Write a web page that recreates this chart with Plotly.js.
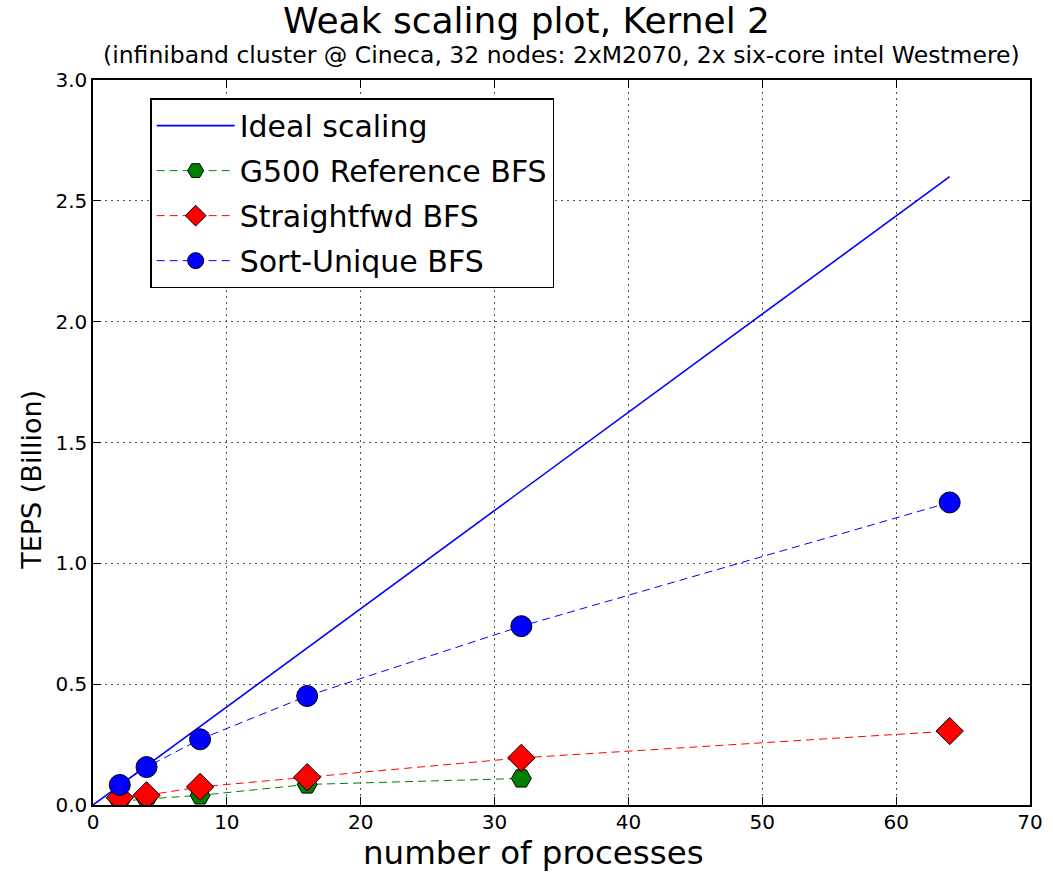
<!DOCTYPE html>
<html>
<head>
<meta charset="utf-8">
<script src="https://cdn.plot.ly/plotly-3.0.1.min.js"></script>
<style>html,body{margin:0;padding:0;background:#fff;}#chart{width:1053px;height:873px;}</style>
</head>
<body>
<div id="chart"></div>
<script>
const idealX = [0, 2, 4, 8, 16, 32, 64];
const idealY = [0, 0.08125, 0.1625, 0.325, 0.65, 1.3, 2.6];
const g500X = [2, 4, 8, 16, 32];
const g500Y = [0.015, 0.025, 0.04, 0.085, 0.11];
const straightX = [2, 4, 8, 16, 32, 64];
const straightY = [0.03, 0.04, 0.075, 0.115, 0.195, 0.306];
const sortX = [2, 4, 8, 16, 32, 64];
const sortY = [0.083, 0.157, 0.272, 0.451, 0.74, 1.252];

const font = "DejaVu Sans, sans-serif";
const traces = [
  {x: idealX, y: idealY, mode: 'lines', name: 'Ideal scaling', legendgroup: 'a',
   line: {color: '#0000ff', width: 1.6}},
  {x: g500X, y: g500Y, mode: 'lines+markers', name: 'G500 Reference BFS', legendgroup: 'b',
   line: {color: '#008000', width: 1, dash: '8px,5px'},
   marker: {symbol: 'hexagon2', size: 20, color: '#008000', line: {color: '#000', width: 1}}},
  {x: straightX, y: straightY, mode: 'lines+markers', name: 'Straightfwd BFS', legendgroup: 'c',
   line: {color: '#ff0000', width: 1, dash: '8px,5px'},
   marker: {symbol: 'diamond', size: 21, color: '#ff0000', line: {color: '#000', width: 1}}},
  {x: sortX, y: sortY, mode: 'lines+markers', name: 'Sort-Unique BFS', legendgroup: 'd',
   line: {color: '#0000ff', width: 1, dash: '8px,5px'},
   marker: {symbol: 'circle', size: 21, color: '#0000ff', line: {color: '#000', width: 1}}}
];

const axisCommon = {
  showline: true, linecolor: '#000', linewidth: 1.5, mirror: 'ticks',
  ticks: 'inside', ticklen: 8, tickwidth: 1.2, tickcolor: '#000',
  showgrid: true, gridcolor: '#555', griddash: '2px,4px', gridwidth: 1.2,
  zeroline: false, tickfont: {family: font, size: 20, color: '#000'}
};

const layout = {
  width: 1053, height: 873,
  margin: {l: 93, r: 23, t: 80, b: 68},
  paper_bgcolor: '#fff', plot_bgcolor: '#fff',
  showlegend: true,
  font: {family: font, color: '#000'},
  title: {text: 'Weak scaling plot, Kernel 2', x: 0.5, xanchor: 'center',
          y: 0.977, yanchor: 'middle', yref: 'container',
          font: {family: font, size: 36, color: '#000'}},
  xaxis: Object.assign({}, axisCommon, {range: [0, 70], tick0: 0, dtick: 10, ticklabelstandoff: -2}),
  yaxis: Object.assign({}, axisCommon, {range: [0, 3.0], tick0: 0, dtick: 0.5, tickformat: '.1f'}),
  legend: {
    x: 0.061, y: 0.975, xanchor: 'left', yanchor: 'top',
    bgcolor: '#fff', bordercolor: '#000', borderwidth: 1.5,
    font: {family: font, size: 30, color: '#000'},
    itemwidth: 78, tracegroupgap: 3
  },
  annotations: [
    {text: '(infiniband cluster @ Cineca, 32 nodes: 2xM2070, 2x six-core intel Westmere)',
     xref: 'paper', yref: 'paper', x: 0.5, y: 1.0345, xanchor: 'center', yanchor: 'middle',
     showarrow: false, font: {family: font, size: 23.5, color: '#000'}},
    {text: 'number of processes', xref: 'paper', yref: 'paper', x: 0.4696, y: -0.0938,
     xanchor: 'center', yanchor: 'bottom', showarrow: false, borderpad: 0,
     font: {family: font, size: 32.5, color: '#000'}},
    {text: 'TEPS (Billion)', xref: 'paper', yref: 'paper', x: -0.0656, y: 0.448,
     xanchor: 'center', yanchor: 'middle', textangle: -90, showarrow: false,
     font: {family: font, size: 27, color: '#000'}}
  ]
};

Plotly.newPlot('chart', traces, layout, {displayModeBar: false});
</script>
</body>
</html>
